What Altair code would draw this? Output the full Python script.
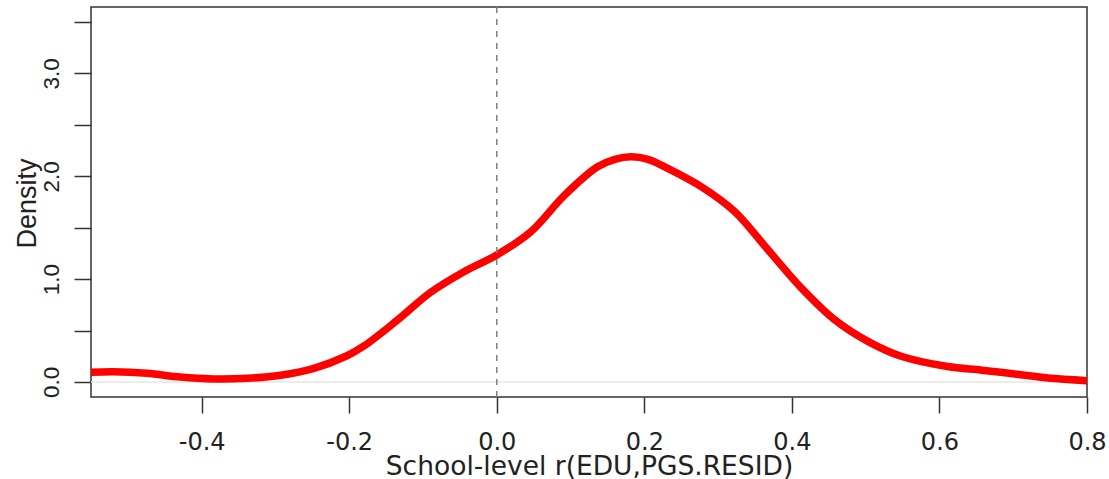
import altair as alt
import pandas as pd

# density curve
xs = [-0.55, -0.52, -0.474, -0.429, -0.384, -0.338, -0.293, -0.249, -0.203,
      -0.180, -0.135, -0.090, -0.045, 0.0, 0.046, 0.091, 0.136, 0.16, 0.182,
      0.205, 0.231, 0.277, 0.322, 0.367, 0.412, 0.458, 0.503, 0.548, 0.611,
      0.657, 0.702, 0.747, 0.8]
ds = [0.094, 0.10, 0.085, 0.048, 0.030, 0.036, 0.066, 0.13, 0.255,
      0.35, 0.60, 0.87, 1.07, 1.235, 1.46, 1.81, 2.09, 2.165, 2.19,
      2.165, 2.08, 1.90, 1.66, 1.29, 0.92, 0.605, 0.395, 0.25, 0.15,
      0.115, 0.078, 0.038, 0.013]

x_ticks = [-0.4, -0.2, 0.0, 0.2, 0.4, 0.6, 0.8]
y_ticks = [0.0, 0.5, 1.0, 1.5, 2.0, 2.5, 3.0, 3.5]
x_domain = [-0.55, 0.8]
y_domain = [-0.146, 3.646]

df = pd.DataFrame({"x": xs, "d": ds})

W, H = 996, 390

x_scale = alt.Scale(domain=x_domain, nice=False, zero=False)
y_scale = alt.Scale(domain=y_domain, nice=False, zero=False)

x_axis = alt.Axis(
    values=x_ticks, grid=False, domain=False,
    labelExpr="replace(format(datum.value, '.1f'), '\u2212', '-')",
    tickSize=16, tickWidth=1.5, tickColor="#333333",
    labelFont="DejaVu Sans", labelFontSize=24, labelColor="#222222",
    labelBaseline="alphabetic", labelPadding=36, labelFlush=False,
    labelOverlap=False,
    title="School-level r(EDU,PGS.RESID)",
    titleFont="DejaVu Sans", titleFontSize=26.5, titleFontWeight="normal",
    titleColor="#222222", titleX=498, titleY=77, titleAlign="center",
    titleBaseline="alphabetic", titleAngle=0,
)

y_axis = alt.Axis(
    values=y_ticks, grid=False, domain=False,
    labelExpr="datum.value % 1 == 0 ? format(datum.value, '.1f') : ''",
    tickSize=17, tickWidth=1.5, tickColor="#333333",
    labelFont="Liberation Sans", labelFontSize=22.5, labelColor="#222222",
    labelAngle=270, labelAlign="center", labelBaseline="alphabetic",
    labelPadding=16, labelOverlap=False, labelFlush=False,
    title="Density",
    titleFont="Liberation Sans", titleFontSize=27, titleFontWeight="normal",
    titleColor="#222222", titleX=-56, titleY=196, titleAngle=270,
    titleAlign="center", titleBaseline="alphabetic",
)

base = alt.Chart(df)

zero_line = alt.Chart(pd.DataFrame({"y": [0.0]})).mark_rule(
    color="#e6e6e6", strokeWidth=1.5
).encode(y=alt.Y("y:Q", scale=y_scale, axis=y_axis))

curve = base.mark_line(color="#ff0000", strokeWidth=7.5, interpolate="catmull-rom",
                       strokeCap="butt", strokeJoin="round", clip=True).encode(
    x=alt.X("x:Q", scale=x_scale, axis=x_axis),
    y=alt.Y("d:Q", scale=y_scale, axis=y_axis),
)

vline = alt.Chart(pd.DataFrame({"x": [0.0]})).mark_rule(
    color="#808080", strokeWidth=1.5, strokeDash=[6, 6]
).encode(x=alt.X("x:Q", scale=x_scale, axis=x_axis))

chart = alt.layer(zero_line, curve, vline).properties(
    width=W, height=H,
    autosize=alt.AutoSizeParams(type="none"),
    padding={"left": 91, "top": 7, "right": 22, "bottom": 82},
    background="white",
).configure_view(stroke="#333333", strokeWidth=1.5)

chart.save("out.html", embed_options={"renderer": "svg", "actions": False})
